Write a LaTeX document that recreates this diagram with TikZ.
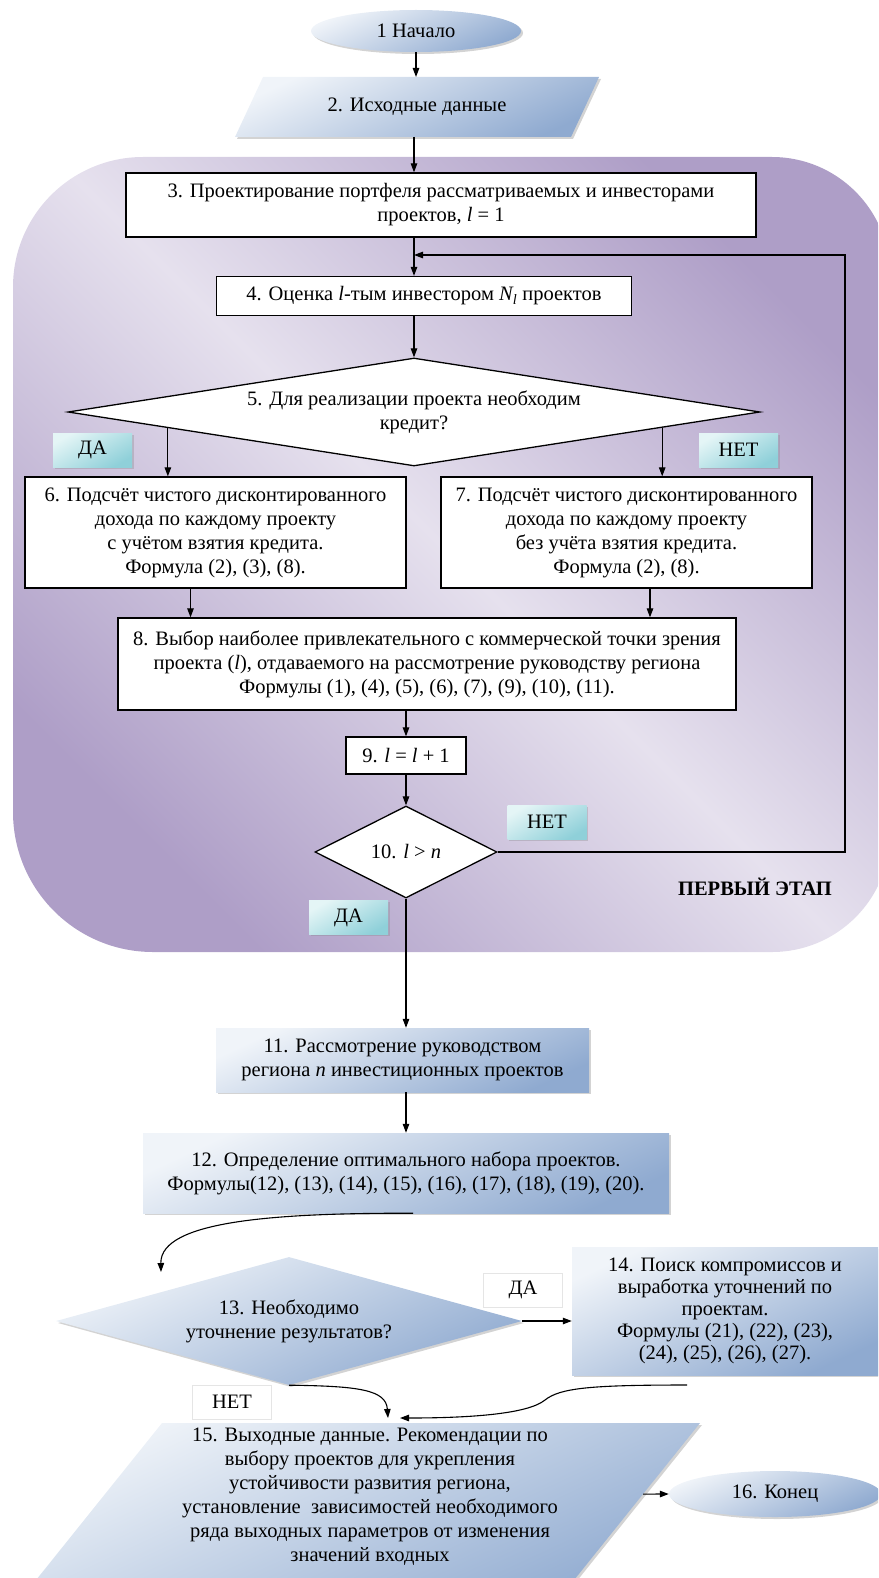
\documentclass[tikz,border=0pt]{standalone}
\usepackage{fontspec}
\setmainfont{Liberation Serif}
\usepackage{tikz}
\usetikzlibrary{calc,arrows.meta,shapes.geometric,shadows}
\definecolor{purL}{HTML}{E6E1EE}
\definecolor{purD}{HTML}{AE9EC7}
\definecolor{bluL}{HTML}{F0F4F9}
\definecolor{bluD}{HTML}{8FAAD0}
\definecolor{cyaL}{HTML}{E4F5F6}
\definecolor{cyaD}{HTML}{8FD0D9}
\newcommand\boxfont{\fontsize{20.5pt}{24pt}\selectfont}
\tikzset{
  arr/.style={draw=black, line width=1.1pt, -{Triangle[length=9pt,width=6.5pt]}},
  wbox/.style={rectangle, draw=black, fill=white, line width=1.3pt, align=center, font=\boxfont, inner sep=0pt},
  bfill/.style={top color=bluL, bottom color=bluD, shading angle=25,
    drop shadow={opacity=0.35, shadow xshift=2pt, shadow yshift=-2pt}},
  bbox/.style={rectangle, bfill, align=center, font=\boxfont, inner sep=0pt},
  ell/.style={ellipse, bfill, font=\boxfont, inner sep=0pt},
  cyalab/.style={rectangle, top color=cyaL, bottom color=cyaD, shading angle=30,
    drop shadow={opacity=0.3, shadow xshift=1.5pt, shadow yshift=-1.5pt},
    minimum width=79pt, minimum height=34pt, font=\boxfont},
  wlab/.style={rectangle, draw=gray!20, fill=white, minimum width=79pt, minimum height=34pt, font=\boxfont},
}

\begin{document}
\begin{tikzpicture}[x=1pt,y=-1pt]
  \useasboundingbox (0,0) rectangle (878,1578);
  \clip (0,0) rectangle (878,1578);

  % first stage
  \shade[top color=purD, bottom color=purD, middle color=purL, shading angle=-45]
    (13,500) [rounded corners=130pt] -- (13,157) [rounded corners=118pt] -- (890,157)
    -- (890,952) [rounded corners=140pt] -- (13,952) -- cycle;

  \node[ell, minimum width=210pt, minimum height=42pt] (n1) at (416,31) {1 Начало};
  % input data
  \coordinate (a2) at (263,77);
  \coordinate (b2) at (599,77);
  \coordinate (c2) at (571,137);
  \coordinate (d2) at (235,137);
  \shade[bfill] (a2) -- (b2) -- (c2) -- (d2) -- cycle;
  \node[font=\boxfont] (n2) at (417,107) {2. Исходные данные};
  \node[wbox, minimum width=630pt, minimum height=64pt] (n3) at (441,205)
    {3. Проектирование портфеля рассматриваемых и инвесторами\\проектов, \textit{l} = 1};
  \node[wbox, minimum width=415pt, minimum height=39pt] (n4) at (424,296)
    {4. Оценка \textit{l}-тым инвестором \textit{N\textsubscript{l}} проектов};
  \node[wbox, diamond, aspect=6.4, minimum width=692pt, minimum height=108pt] (d5) at (414,412)
    {5. Для реализации проекта необходим\\кредит?};
  \node[wbox, minimum width=381pt, minimum height=111pt] (n6) at (215.5,532.5)
    {6. Подсчёт чистого дисконтированного\\дохода по каждому проекту\\с учётом взятия кредита.\\Формула (2), (3), (8).};
  \node[wbox, minimum width=371pt, minimum height=111pt] (n7) at (626.5,532.5)
    {7. Подсчёт чистого дисконтированного\\дохода по каждому проекту\\без учёта взятия кредита.\\Формула (2), (8).};
  \node[wbox, minimum width=618pt, minimum height=92pt] (n8) at (427,664)
    {8. Выбор наиболее привлекательного с коммерческой точки зрения\\проекта (\textit{l}), отдаваемого на рассмотрение руководству региона\\Формулы (1), (4), (5), (6), (7), (9), (10), (11).};
  \node[wbox, minimum width=120pt, minimum height=37pt] (n9) at (406,755.5)
    {9. \textit{l} = \textit{l} + 1};
  \node[wbox, diamond, aspect=2, minimum width=182pt, minimum height=92pt] (d10) at (406,852)
    {10. \textit{l} > \textit{n}};

  \node[cyalab] (yes5) at (92.5,450) {ДА};
  \node[cyalab] (no5) at (738.5,450) {НЕТ};
  \node[cyalab] (no10) at (547,822) {НЕТ};
  \node[cyalab] (yes10) at (348.5,917.5) {ДА};
  \node[font=\boxfont\bfseries] (stage) at (755,887) {ПЕРВЫЙ ЭТАП};

  % second part
  \node[bbox, minimum width=373pt, minimum height=64pt] (n11) at (402.5,1060)
    {11. Рассмотрение руководством\\региона \textit{n} инвестиционных проектов};
  \node[bbox, minimum width=526pt, minimum height=80pt] (n12) at (406,1173)
    {12. Определение оптимального набора проектов.\\Формулы(12), (13), (14), (15), (16), (17), (18), (19), (20).};
  \node[bbox, diamond, aspect=3.6, minimum width=466pt, minimum height=128pt] (d13) at (289,1321)
    {13. Необходимо\\уточнение результатов?};
  \node[bbox, minimum width=306pt, minimum height=128pt,
    font=\fontsize{20.5pt}{22pt}\selectfont] (n14) at (725,1311)
    {14. Поиск компромиссов и\\выработка уточнений по\\проектам.\\Формулы (21), (22), (23),\\(24), (25), (26), (27).};
  % output data
  \coordinate (a15) at (162,1423);
  \coordinate (b15) at (700,1423);
  \coordinate (c15) at (550,1610);
  \coordinate (d15) at (12,1610);
  \shade[bfill] (a15) -- (b15) -- (c15) -- (d15) -- cycle;
  \node[align=center, font=\boxfont] (n15) at (370,1497)
    {15. Выходные данные. Рекомендации по\\выбору проектов для укрепления\\устойчивости развития региона,\\установление~ зависимостей необходимого\\ряда выходных параметров от изменения\\значений входных};
  \node[ell, minimum width=212pt, minimum height=46pt] (n16) at (775,1494) {16. Конец};

  \node[wlab] (yes13) at (523,1290) {ДА};
  \node[wlab] (no13) at (232,1402) {НЕТ};

  % connectors
  \coordinate (ax) at (414,0);
  \coordinate (lp) at (845,255);
  \coordinate (s6) at ($(d5.west)!0.29!(d5.south)$);
  \coordinate (s7) at ($(d5.east)!0.284!(d5.south)$);
  \draw[arr] (n1.south) -- (n1.south |- a2);
  \draw[arr] (ax |- d2) -- (n3.north -| ax);
  \draw[arr] (n3.south -| ax) -- (n4.north -| ax);
  \draw[arr] (n4.south -| ax) -- (d5.north);
  \draw[arr] (d10.east) -| (lp) -- (lp -| ax); % back to step 4
  \draw[arr] (s6) -- (s6 |- n6.north);
  \draw[arr] (s7) -- (s7 |- n7.north);
  \draw[arr] ([xshift=-25pt]n6.south) -- ([xshift=-25pt]n6.south |- n8.north);
  \draw[arr] ([xshift=23.5pt]n7.south) -- ([xshift=23.5pt]n7.south |- n8.north);
  \draw[arr] (n8.south -| n9) -- (n9.north);
  \draw[arr] (n9.south) -- (d10.north);
  \draw[arr] (d10.south) -- (d10.south |- n11.north);
  \draw[arr] (n11.south -| d10) -- (n12.north -| d10);

  \coordinate (c13) at (161,1272);
  \coordinate (m15) at (388,1418);
  \coordinate (k15) at (400,1418);
  \coordinate (k14) at (687,1385);
  \coordinate (r15) at ($(b15)!0.38!(c15)$);
  \draw[arr] ([xshift=7pt]n12.south) .. controls (280,1213) and (160,1220) .. (c13);
  \draw[arr] (d13.east) -- (d13.east -| n14.west);
  \draw[arr] (d13.south) .. controls (360,1386) and (386,1390) .. (m15);
  \draw[arr] (k14) .. controls (590,1385) and (560,1388) .. (545,1400)
    .. controls (528,1414) and (470,1418) .. (k15);
  \draw[arr] (r15) -- (n16.west);
\end{tikzpicture}
\end{document}
